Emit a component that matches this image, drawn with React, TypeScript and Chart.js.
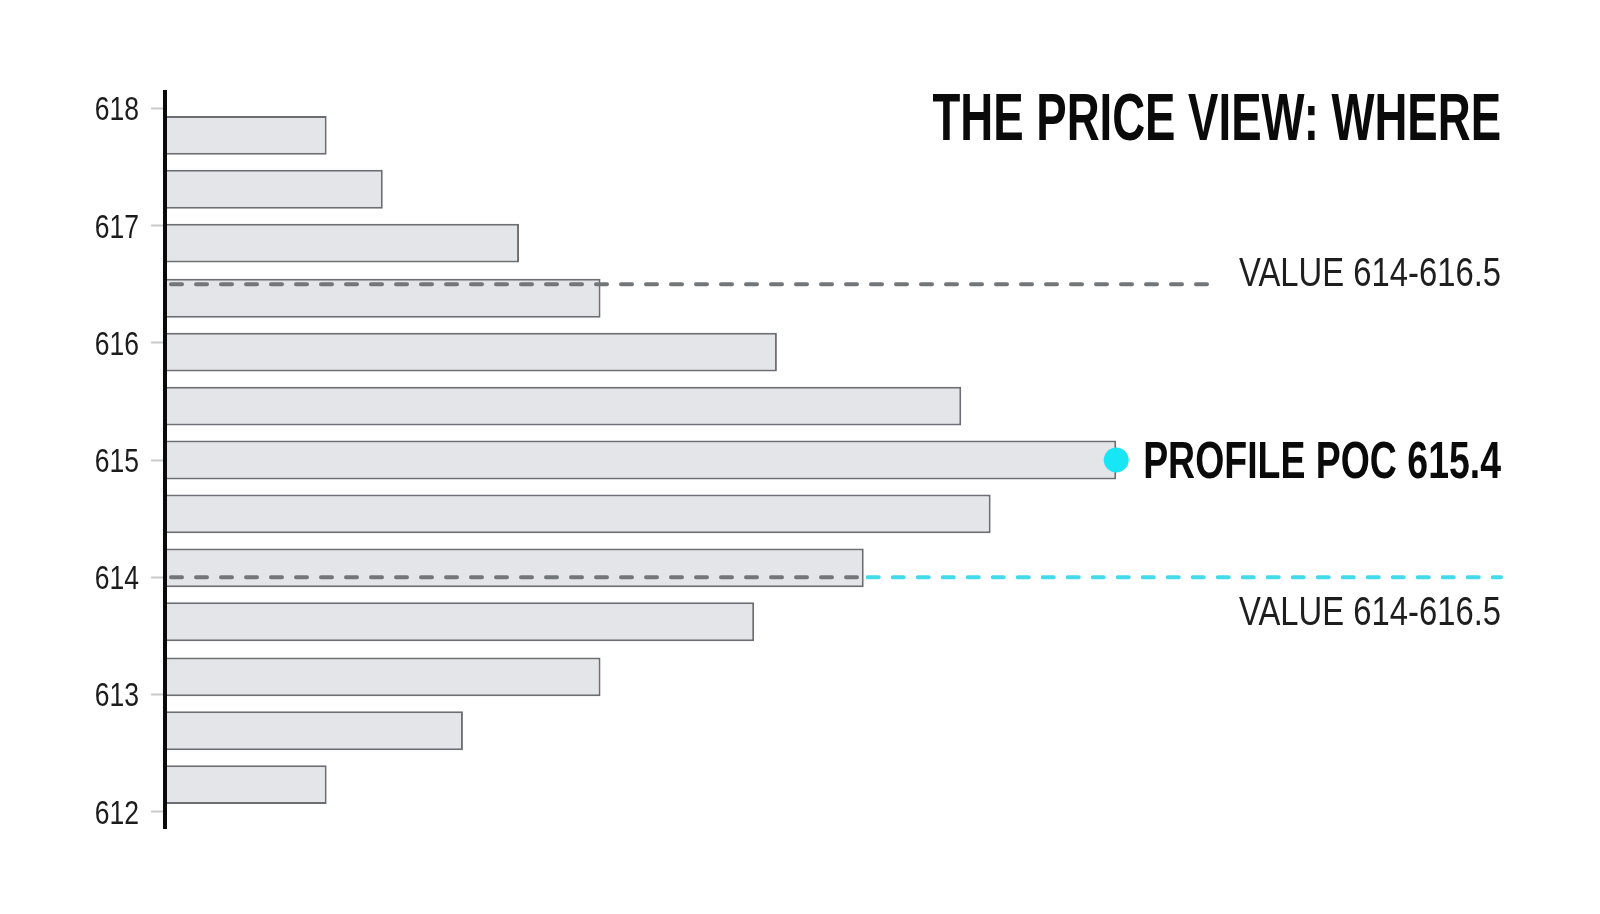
import { useEffect, useRef } from 'react';
import { Chart, registerables } from 'chart.js';

Chart.register(...registerables);

// price levels of the profile rows (bottom to top) and volume traded at each
const prices = [612.23, 612.69, 613.15, 613.62, 614.08, 614.54, 615.0, 615.46, 615.92, 616.38, 616.85, 617.31, 617.77];
const volumes = [12.1, 22.3, 32.6, 44.1, 52.3, 61.8, 71.2, 59.6, 45.8, 32.6, 26.5, 16.3, 12.1];
const priceTicks = [612, 613, 614, 615, 616, 617, 618];
const valueAreaLow = 614;
const valueAreaHigh = 616.5;

const titleText = 'THE PRICE VIEW: WHERE';
const valueLabel = 'VALUE 614-616.5';
const pocLabel = 'PROFILE POC 615.4';

const FONT = "'Liberation Sans', Arial, sans-serif";

// no condensed face is installed, so squeeze the glyphs horizontally
const drawCondensed = (
  ctx: CanvasRenderingContext2D,
  text: string,
  right: number,
  baseline: number,
  font: string,
  color: string,
  squeeze: number
) => {
  ctx.save();
  ctx.font = font;
  ctx.fillStyle = color;
  ctx.textAlign = 'right';
  ctx.textBaseline = 'alphabetic';
  ctx.translate(right, baseline);
  ctx.scale(squeeze, 1);
  ctx.fillText(text, 0, 0);
  const width = ctx.measureText(text).width * squeeze;
  ctx.restore();
  return width;
};

const dashedLine = (
  ctx: CanvasRenderingContext2D,
  x1: number,
  x2: number,
  y: number,
  color: string
) => {
  ctx.save();
  ctx.strokeStyle = color;
  ctx.lineWidth = 4;
  ctx.lineCap = 'round';
  ctx.setLineDash([11, 14]);
  ctx.beginPath();
  ctx.moveTo(x1, y);
  ctx.lineTo(x2, y);
  ctx.stroke();
  ctx.restore();
};

const annotations = {
  id: 'profileAnnotations',
  afterDatasetsDraw(chart: Chart) {
    const { ctx, chartArea, scales } = chart;
    const xs = scales.x;
    const ys = scales.y;
    const right = chartArea.right;

    // value area high
    const yHigh = ys.getPixelForValue(valueAreaHigh);
    const wHigh = drawCondensed(ctx, valueLabel, right, yHigh + 2, `40px ${FONT}`, '#1e1e1e', 0.82);
    dashedLine(ctx, chartArea.left + 6, right - wHigh - 22, yHigh, '#737679');

    // value area low: grey inside the row, cyan beyond it
    let lowIdx = 0;
    prices.forEach((p, i) => {
      if (Math.abs(p - valueAreaLow) < Math.abs(prices[lowIdx] - valueAreaLow)) lowIdx = i;
    });
    const yLow = ys.getPixelForValue(valueAreaLow);
    const xLowEnd = xs.getPixelForValue(volumes[lowIdx]);
    dashedLine(ctx, chartArea.left + 6, xLowEnd - 6, yLow, '#737679');
    dashedLine(ctx, xLowEnd + 4, right, yLow, '#43dbea');
    drawCondensed(ctx, valueLabel, right, yLow + 48, `40px ${FONT}`, '#1e1e1e', 0.82);

    // point of control
    let poc = 0;
    volumes.forEach((v, i) => {
      if (v > volumes[poc]) poc = i;
    });
    const px = xs.getPixelForValue(volumes[poc]);
    const py = ys.getPixelForValue(prices[poc]);
    ctx.save();
    ctx.fillStyle = '#18e6f5';
    ctx.beginPath();
    ctx.arc(px, py, 12.5, 0, Math.PI * 2);
    ctx.fill();
    ctx.restore();
    drawCondensed(ctx, pocLabel, right, py + 18, `bold 52px ${FONT}`, '#0a0a0a', 0.72);
  },
  afterDraw(chart: Chart) {
    const { ctx, chartArea, scales } = chart;
    const ys = scales.y;

    // axis line sits on top of the rows
    ctx.save();
    ctx.strokeStyle = '#0a0a0a';
    ctx.lineWidth = 4;
    ctx.beginPath();
    ctx.moveTo(chartArea.left, chartArea.top);
    ctx.lineTo(chartArea.left, chartArea.bottom);
    ctx.stroke();
    ctx.restore();

    // price labels next to the axis ticks
    ys.ticks.forEach((t: any, i: number) => {
      drawCondensed(ctx, String(t.value), 139, ys.getPixelForTick(i) + 12, `34px ${FONT}`, '#1c1c1c', 0.78);
    });

    // title
    drawCondensed(ctx, titleText, chartArea.right, 140, `bold 66px ${FONT}`, '#0a0a0a', 0.69);
  },
};

const VolumeProfile = () => {
  const chartRef = useRef<HTMLCanvasElement>(null);
  const chartInstance = useRef<Chart | null>(null);

  useEffect(() => {
    if (!chartRef.current) return;
    if (chartInstance.current) chartInstance.current.destroy();

    chartInstance.current = new Chart(chartRef.current, {
      type: 'bar',
      data: {
        datasets: [
          {
            data: prices.map((p, i) => ({ x: volumes[i], y: p })),
            backgroundColor: '#e3e5e8',
            borderColor: '#6b6e73',
            borderWidth: 2,
            borderSkipped: 'start',
            categoryPercentage: 1,
            barPercentage: 0.72,
          },
        ],
      },
      options: {
        indexAxis: 'y',
        animation: false,
        responsive: true,
        maintainAspectRatio: false,
        layout: { padding: { top: 92, bottom: 86, right: 99, left: 0 } },
        plugins: {
          legend: { display: false },
          tooltip: { enabled: false },
        },
        scales: {
          x: { type: 'linear', min: 0, max: 100, display: false },
          y: {
            type: 'linear',
            offset: false,
            min: 611.86,
            max: 618.14,
            afterFit: (scale: any) => {
              scale.width = 165;
            },
            afterBuildTicks: (scale: any) => {
              scale.ticks = priceTicks.map((v) => ({ value: v }));
            },
            ticks: { display: false },
            grid: {
              offset: false,
              drawOnChartArea: false,
              drawTicks: true,
              tickLength: 14,
              tickColor: '#c8cacd',
              tickWidth: 2,
            },
            border: { display: true, color: '#0a0a0a', width: 4 },
          },
        },
      },
      plugins: [annotations],
    });

    return () => {
      if (chartInstance.current) {
        chartInstance.current.destroy();
        chartInstance.current = null;
      }
    };
  }, []);

  return (
    <div style={{ position: 'absolute', left: 0, top: 0, width: 1600, height: 914, background: '#fff' }}>
      <canvas ref={chartRef} />
    </div>
  );
};

export default function App() {
  return <VolumeProfile />;
}
